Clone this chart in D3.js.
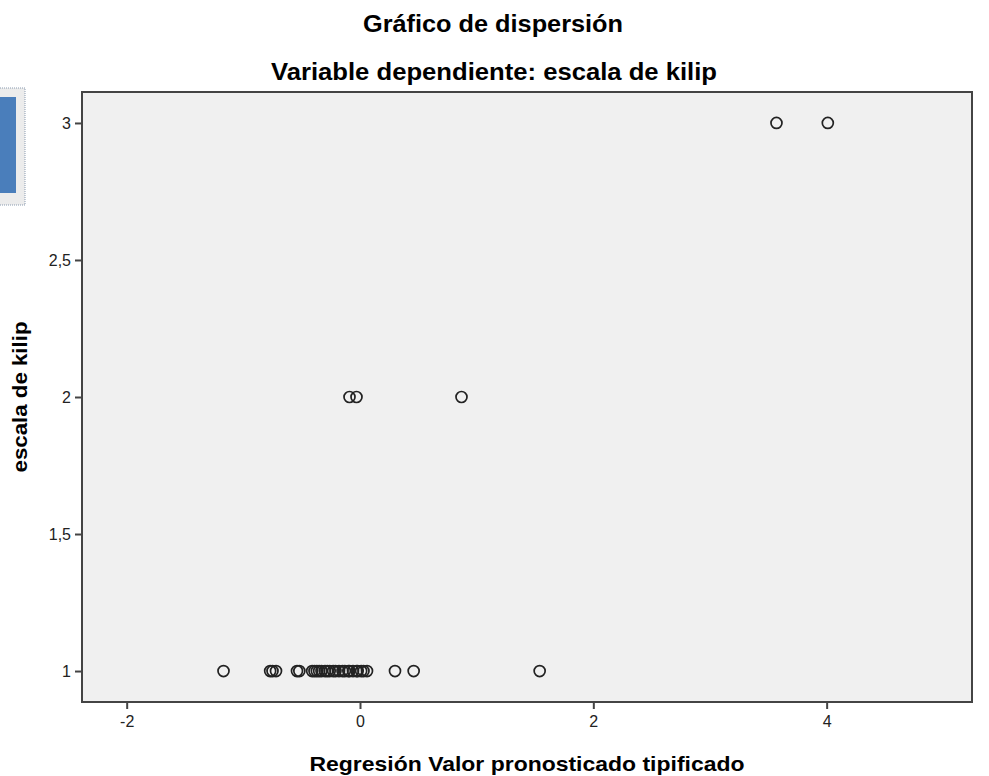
<!DOCTYPE html>
<html>
<head>
<meta charset="utf-8">
<script src="https://cdnjs.cloudflare.com/ajax/libs/d3/7.8.5/d3.min.js"></script>
<style>
  body { margin: 0; background: #fff; }
  text { font-family: "Liberation Sans", Arial, sans-serif; }
</style>
</head>
<body>
<div id="chart"></div>
<script>
// predicted (standardized) value vs. kilip scale
const xVals3 = [3.57, 4.01];
const xVals2 = [-0.09, -0.03, 0.87];
const xVals1 = [-1.17, -0.77, -0.75, -0.72, -0.54, -0.52,
                -0.41, -0.39, -0.37, -0.35, -0.33, -0.30, -0.28, -0.26, -0.23, -0.21, -0.18,
                -0.15, -0.13, -0.10, -0.09, -0.06, -0.03, -0.02, 0.01, 0.03, 0.06,
                0.30, 0.46, 1.54];
const xTicks = [-2, 0, 2, 4];
const yTicks = [1, 1.5, 2, 2.5, 3];

const points = [
    ...xVals1.map(x => ({x: x, y: 1})),
    ...xVals2.map(x => ({x: x, y: 2})),
    ...xVals3.map(x => ({x: x, y: 3}))
];

const svg = d3.select("#chart").append("svg").attr("width", 989).attr("height", 776);
const pLeft = 82, pRight = 972, pTop = 92, pBottom = 702;

const x = d3.scaleLinear().domain([-2.383, 5.246]).range([pLeft, pRight]);
const y = d3.scaleLinear().domain([0.887, 3.113]).range([pBottom, pTop]);

// leftover UI piece on the left edge
svg.append("rect").attr("x", -2).attr("y", 88).attr("width", 27).attr("height", 117)
    .attr("fill", "#ececec").attr("stroke", "#8a9bb0").attr("stroke-dasharray", "1,1");
svg.append("rect").attr("x", 0).attr("y", 97).attr("width", 16).attr("height", 96)
    .attr("fill", "#4a7ebb");

// titles
svg.append("text").attr("x", 493).attr("y", 32).attr("text-anchor", "middle")
    .attr("font-size", 23).attr("font-weight", "bold")
    .attr("textLength", 260).attr("lengthAdjust", "spacingAndGlyphs")
    .text("Gráfico de dispersión");
svg.append("text").attr("x", 494).attr("y", 80).attr("text-anchor", "middle")
    .attr("font-size", 23).attr("font-weight", "bold")
    .attr("textLength", 446).attr("lengthAdjust", "spacingAndGlyphs")
    .text("Variable dependiente: escala de kilip");

// plot background
svg.append("rect").attr("x", pLeft).attr("y", pTop).attr("width", pRight - pLeft).attr("height", pBottom - pTop)
    .attr("fill", "#f0f0f0");

// axes
const xAxis = svg.append("g").attr("transform", `translate(0,${pBottom})`)
    .call(d3.axisBottom(x).tickValues(xTicks).tickSize(7).tickSizeOuter(0).tickFormat(d => String(d)));
const yAxis = svg.append("g").attr("transform", `translate(${pLeft},0)`)
    .call(d3.axisLeft(y).tickValues(yTicks).tickSize(7).tickSizeOuter(0)
        .tickFormat(d => String(d).replace(".", ",")));

[xAxis, yAxis].forEach(a => {
    a.select(".domain").remove();
    a.selectAll(".tick line").attr("stroke", "#444").attr("stroke-width", 2);
    a.selectAll(".tick text").attr("fill", "#222")
        .style("font-size", "16px")
        .style("font-family", "\"Liberation Sans\", Arial, sans-serif");
});
xAxis.selectAll(".tick text").attr("dy", "0.95em");
yAxis.selectAll(".tick text").attr("dx", "-1px");

// frame
svg.append("rect").attr("x", pLeft).attr("y", pTop).attr("width", pRight - pLeft).attr("height", pBottom - pTop)
    .attr("fill", "none").attr("stroke", "#444").attr("stroke-width", 2);

// points
svg.append("g").selectAll("circle")
    .data(points)
    .enter().append("circle")
    .attr("cx", d => x(d.x))
    .attr("cy", d => y(d.y))
    .attr("r", 5.5)
    .attr("fill", "none")
    .attr("stroke", "#222")
    .attr("stroke-width", 1.7);

// axis labels
svg.append("text").attr("x", 527).attr("y", 771).attr("text-anchor", "middle")
    .attr("font-size", 21).attr("font-weight", "bold")
    .attr("textLength", 435).attr("lengthAdjust", "spacingAndGlyphs")
    .text("Regresión Valor pronosticado tipificado");
svg.append("text").attr("transform", `translate(27,397) rotate(-90)`)
    .attr("text-anchor", "middle").attr("font-size", 21).attr("font-weight", "bold")
    .attr("textLength", 151).attr("lengthAdjust", "spacingAndGlyphs")
    .text("escala de kilip");
</script>
</body>
</html>
